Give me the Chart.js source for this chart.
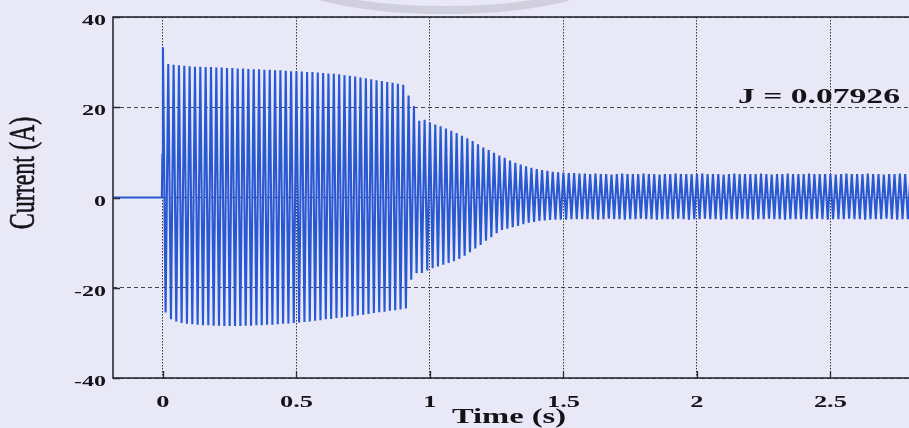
<!DOCTYPE html>
<html>
<head>
<meta charset="utf-8">
<script src="https://cdn.jsdelivr.net/npm/chart.js@4"></script>
<style>
  html, body { margin: 0; padding: 0; background: #e9e8f7; overflow: hidden; }
  #wrap { width: 925px; height: 428px; position: relative; }
</style>
</head>
<body>
<div id="wrap"><canvas id="currentChart"></canvas></div>
<script>
// stator current, one sample at each positive and negative peak of the 50 Hz wave
var period = 0.02;
var preTime = [-0.19, -0.004, -0.002];
var preCurrent = [0, 0, 9.5];

var peakHigh = [
  33.3, 29.6, 29.4, 29.3, 29.2, 29.1, 29.0, 29.0, 28.9, 28.9,
  28.8, 28.8, 28.7, 28.7, 28.6, 28.6, 28.5, 28.4, 28.4, 28.3,
  28.3, 28.2, 28.2, 28.1, 28.0, 28.0, 27.9, 27.8, 27.8, 27.7,
  27.6, 27.5, 27.4, 27.3, 27.1, 27.0, 26.8, 26.6, 26.4, 26.2,
  26.0, 25.8, 25.6, 25.4, 25.2, 25.0, 22.6, 20.3, 17.0, 17.2,
  16.6, 16.2, 15.8, 15.3, 14.8, 14.3, 13.7, 13.1, 12.5, 11.8,
  11.1, 10.5, 9.9, 9.3, 8.8, 8.2, 7.7, 7.3, 6.9, 6.6,
  6.3, 6.1, 5.9, 5.7, 5.6, 5.5, 5.4, 5.4, 5.3, 5.3,
  5.2, 5.3, 5.2, 5.2, 5.1, 5.2, 5.3, 5.2, 5.2, 5.2,
  5.3, 5.2, 5.2, 5.1, 5.2, 5.2, 5.3, 5.2, 5.2, 5.2,
  5.2, 5.3, 5.2, 5.2, 5.2, 5.1, 5.2, 5.3, 5.2, 5.2,
  5.2, 5.2, 5.3, 5.2, 5.1, 5.2, 5.2, 5.3, 5.2, 5.2,
  5.2, 5.3, 5.2, 5.2, 5.2, 5.2, 5.1, 5.2, 5.3, 5.2,
  5.2, 5.2, 5.3, 5.2, 5.2, 5.1, 5.2, 5.2, 5.3, 5.2,
  5.2
];

var peakLow = [
  -25.5, -27.0, -27.5, -27.8, -28.0, -28.1, -28.2, -28.3, -28.3, -28.4,
  -28.4, -28.5, -28.5, -28.5, -28.5, -28.4, -28.4, -28.3, -28.3, -28.2,
  -28.2, -28.1, -28.0, -27.9, -27.8, -27.7, -27.6, -27.5, -27.3, -27.2,
  -27.0, -26.9, -26.7, -26.6, -26.4, -26.3, -26.1, -26.0, -25.8, -25.6,
  -25.4, -25.3, -25.1, -25.0, -24.8, -24.6, -18.2, -16.8, -16.7, -16.2,
  -15.7, -15.3, -14.9, -14.5, -14.1, -13.6, -12.9, -12.1, -11.3, -10.5,
  -9.6, -8.8, -7.9, -7.2, -6.9, -6.6, -6.3, -5.9, -5.6, -5.4,
  -5.2, -5.1, -5.0, -4.9, -4.9, -4.9, -4.8, -4.8, -4.8, -4.8,
  -4.8, -4.9, -4.8, -4.7, -4.8, -4.8, -4.9, -4.8, -4.8, -4.7,
  -4.8, -4.8, -4.9, -4.8, -4.8, -4.8, -4.7, -4.8, -4.9, -4.8,
  -4.8, -4.7, -4.8, -4.8, -4.9, -4.8, -4.8, -4.8, -4.7, -4.8,
  -4.9, -4.8, -4.8, -4.7, -4.8, -4.8, -4.9, -4.8, -4.8, -4.8,
  -4.8, -4.8, -4.7, -4.8, -4.9, -4.8, -4.8, -4.8, -4.7, -4.8,
  -4.8, -4.9, -4.8, -4.8, -4.8, -4.7, -4.8, -4.9, -4.8, -4.8,
  -4.8
];

var xTickValues = [0, 0.5, 1, 1.5, 2, 2.5];
var yTickValues = [-40, -20, 0, 20, 40];
var xTitle = 'Time (s)';
var yTitle = 'Current (A)';
var noteText = 'J = 0.07926';

var points = [];
for (var i = 0; i < preTime.length; i++) {
  points.push({ x: preTime[i], y: preCurrent[i] });
}
for (var k = 0; k < peakHigh.length; k++) {
  points.push({ x: k * period, y: peakHigh[k] });
  points.push({ x: k * period + period / 2, y: peakLow[k] });
}

var ink = '#141418';

// text is drawn wide, like the old scanned plot
function wideText(ctx, text, x, y, font, sx, align, baseline) {
  ctx.save();
  ctx.translate(x, y);
  ctx.scale(sx, 1);
  ctx.font = font;
  ctx.fillStyle = ink;
  ctx.textAlign = align;
  ctx.textBaseline = baseline;
  ctx.fillText(text, 0, 0);
  ctx.restore();
}

var paperPlugin = {
  id: 'paper',
  beforeDraw: function (chart) {
    var ctx = chart.ctx;
    ctx.save();
    ctx.fillStyle = '#e9e8f7';
    ctx.fillRect(0, 0, chart.width, chart.height);
    // grey arc at the top edge
    ctx.strokeStyle = '#d0cfdd';
    ctx.lineWidth = 8;
    ctx.beginPath();
    ctx.ellipse(445, -30, 165, 40, 0, 0, Math.PI * 2);
    ctx.stroke();
    ctx.restore();
  },
  afterDraw: function (chart) {
    var ctx = chart.ctx;
    var a = chart.chartArea;
    var xs = chart.scales.x;
    var ys = chart.scales.y;
    ctx.save();
    // frame
    ctx.strokeStyle = '#2b2b33';
    ctx.lineWidth = 1.6;
    ctx.strokeRect(a.left, a.top, a.right - a.left, a.bottom - a.top);
    // inner tick marks
    ctx.lineWidth = 1.3;
    ctx.beginPath();
    xs.ticks.forEach(function (t) {
      var px = Math.round(xs.getPixelForValue(t.value)) + 0.5;
      ctx.moveTo(px, a.bottom);
      ctx.lineTo(px, a.bottom - 7);
    });
    ys.ticks.forEach(function (t) {
      var py = Math.round(ys.getPixelForValue(t.value)) + 0.5;
      ctx.moveTo(a.left, py);
      ctx.lineTo(a.left + 7, py);
    });
    ctx.stroke();
    ctx.restore();

    // tick labels
    xs.ticks.forEach(function (t) {
      wideText(ctx, String(t.value), xs.getPixelForValue(t.value), 407,
        'bold 16px "Liberation Serif", serif', 1.65, 'center', 'alphabetic');
    });
    ys.ticks.forEach(function (t) {
      wideText(ctx, String(t.value), 106, ys.getPixelForValue(t.value) + 8,
        'bold 15px "Liberation Serif", serif', 1.6, 'right', 'alphabetic');
    });

    // axis titles
    wideText(ctx, xTitle, 509, 423, 'bold 21px "Liberation Serif", serif', 1.55, 'center', 'alphabetic');
    ctx.save();
    ctx.translate(34, 173);
    ctx.rotate(-Math.PI / 2);
    ctx.scale(1, 1.45);
    ctx.font = '24px "Liberation Serif", serif';
    ctx.fillStyle = ink;
    ctx.strokeStyle = ink;
    ctx.lineWidth = 0.4;
    ctx.textAlign = 'center';
    ctx.textBaseline = 'alphabetic';
    ctx.fillText(yTitle, 0, 0);
    ctx.strokeText(yTitle, 0, 0);
    ctx.restore();

    // annotation
    wideText(ctx, noteText, 738, 103, 'bold 21px "Liberation Serif", serif', 1.6, 'left', 'alphabetic');
  }
};

new Chart(document.getElementById('currentChart').getContext('2d'), {
  type: 'scatter',
  data: {
    datasets: [{
      label: 'Current',
      data: points,
      showLine: true,
      borderColor: '#2858d2',
      borderWidth: 2.1,
      pointRadius: 0,
      tension: 0
    }]
  },
  options: {
    responsive: true,
    maintainAspectRatio: false,
    animation: false,
    layout: { padding: { top: 17, right: 7, left: 0, bottom: 0 } },
    plugins: { legend: { display: false }, tooltip: { enabled: false } },
    scales: {
      x: {
        type: 'linear',
        min: -0.187,
        max: 2.828,
        z: 1,
        afterBuildTicks: function (s) { s.ticks = xTickValues.map(function (v) { return { value: v }; }); },
        afterFit: function (s) { s.height = 50; },
        ticks: { display: false },
        grid: { color: 'rgba(25,25,35,0.85)', lineWidth: 1, drawTicks: false },
        border: { display: false, dash: [1.5, 1.5] }
      },
      y: {
        type: 'linear',
        min: -40,
        max: 40,
        z: 1,
        afterBuildTicks: function (s) { s.ticks = yTickValues.map(function (v) { return { value: v }; }); },
        afterFit: function (s) { s.width = 113; },
        ticks: { display: false },
        grid: { color: 'rgba(25,25,35,0.8)', lineWidth: 1, drawTicks: false },
        border: { display: false, dash: [4, 3] }
      }
    }
  },
  plugins: [paperPlugin]
});
</script>
</body>
</html>
